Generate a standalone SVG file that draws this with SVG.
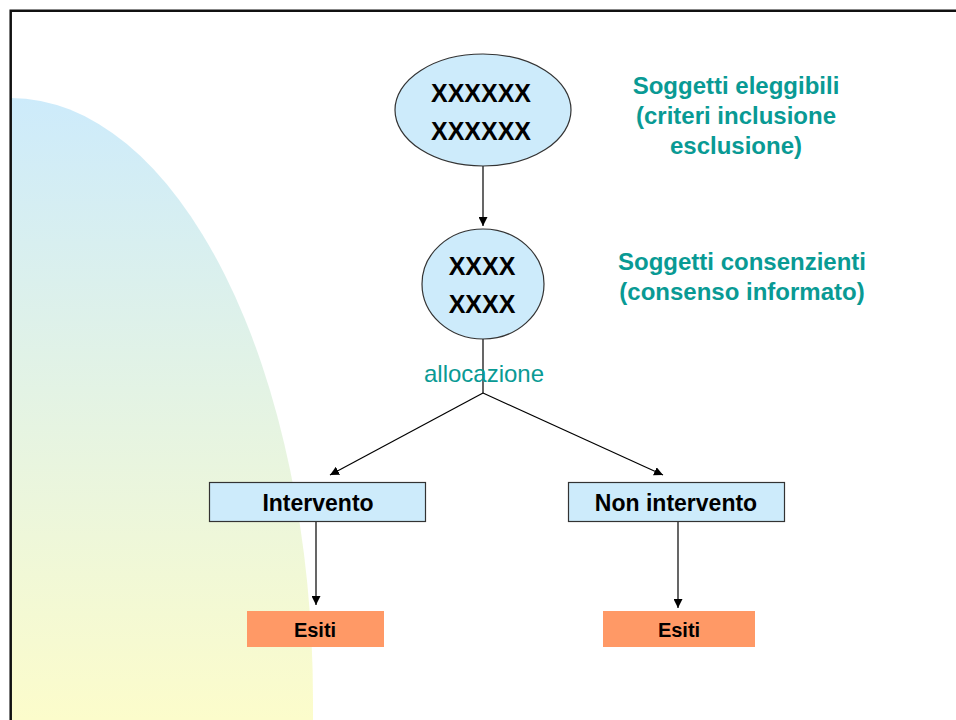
<svg xmlns="http://www.w3.org/2000/svg" width="956" height="720" viewBox="0 0 956 720">
  <defs>
    <linearGradient id="sideFade" x1="0" y1="98" x2="0" y2="720" gradientUnits="userSpaceOnUse">
      <stop offset="0" stop-color="#CDEBFB"/>
      <stop offset="1" stop-color="#FCFCCB"/>
    </linearGradient>
    <marker id="arrow" viewBox="0 0 10 10" refX="10" refY="5" markerWidth="9" markerHeight="9" markerUnits="userSpaceOnUse" orient="auto">
      <path d="M0,0 L10,5 L0,10 Z" fill="#000"/>
    </marker>
    <style>
      .oval { fill: #CDEBFB; stroke: #333; stroke-width: 1.2; }
      .box { fill: #CDEBFB; stroke: #333; stroke-width: 1.2; }
      .outcome { fill: #FF9966; stroke: none; }
      .big { font-family: "Liberation Sans", Arial, sans-serif; font-weight: bold; font-size: 25px; fill: #000; text-anchor: middle; }
      .lbl { font-family: "Liberation Sans", Arial, sans-serif; font-weight: bold; font-size: 23px; fill: #000; text-anchor: middle; }
      .small { font-family: "Liberation Sans", Arial, sans-serif; font-weight: bold; font-size: 20px; fill: #000; text-anchor: middle; }
      .note { font-family: "Liberation Sans", Arial, sans-serif; font-weight: bold; font-size: 24px; fill: #099A94; text-anchor: middle; }
      .edge-label { font-family: "Liberation Sans", Arial, sans-serif; font-size: 24px; fill: #099A94; text-anchor: middle; }
      .link { fill: none; stroke: #000; stroke-width: 1.2; }
    </style>
  </defs>

  <rect x="0" y="0" width="956" height="720" fill="#fff"/>

  <!-- decorative side shape -->
  <path d="M11,98 A302,602 0 0 1 313,700 L313,720 L11,720 Z" fill="url(#sideFade)"/>

  <!-- page frame -->
  <path d="M10.7,722 V10.7 H958" fill="none" stroke="#111" stroke-width="2.5"/>

  <!-- side notes -->
  <g id="note-eligible">
    <text class="note" x="736" y="94">Soggetti eleggibili</text>
    <text class="note" x="736" y="124">(criteri inclusione</text>
    <text class="note" x="736" y="154">esclusione)</text>
  </g>
  <g id="note-consent">
    <text class="note" x="742" y="270">Soggetti consenzienti</text>
    <text class="note" x="742" y="300">(consenso informato)</text>
  </g>

  <!-- connectors -->
  <g id="connectors">
    <line class="link" x1="483" y1="166" x2="483" y2="226" marker-end="url(#arrow)"/>
    <line class="link" x1="483" y1="339" x2="483" y2="393"/>
    <line class="link" x1="483" y1="393" x2="330" y2="475" marker-end="url(#arrow)"/>
    <line class="link" x1="483" y1="393" x2="663" y2="475" marker-end="url(#arrow)"/>
    <line class="link" x1="316" y1="522" x2="316" y2="605" marker-end="url(#arrow)"/>
    <line class="link" x1="678" y1="522" x2="678" y2="608" marker-end="url(#arrow)"/>
    <text class="edge-label" x="484" y="382">allocazione</text>
  </g>

  <g id="eligible">
    <ellipse class="oval" cx="483" cy="110" rx="88" ry="56"/>
    <text class="big" x="481" y="102">XXXXXX</text>
    <text class="big" x="481" y="140">XXXXXX</text>
  </g>

  <g id="consenting">
    <ellipse class="oval" cx="483" cy="284" rx="61" ry="55"/>
    <text class="big" x="482" y="275">XXXX</text>
    <text class="big" x="482" y="313">XXXX</text>
  </g>

  <g id="intervention">
    <rect class="box" x="209.5" y="482.5" width="216" height="39"/>
    <text class="lbl" x="318" y="511">Intervento</text>
  </g>

  <g id="no-intervention">
    <rect class="box" x="568.5" y="482.5" width="216" height="39"/>
    <text class="lbl" x="676" y="511">Non intervento</text>
  </g>

  <g id="outcome-intervention">
    <rect class="outcome" x="247" y="611" width="137" height="36"/>
    <text class="small" x="315" y="637">Esiti</text>
  </g>

  <g id="outcome-no-intervention">
    <rect class="outcome" x="603" y="611" width="152" height="36"/>
    <text class="small" x="679" y="637">Esiti</text>
  </g>
</svg>
